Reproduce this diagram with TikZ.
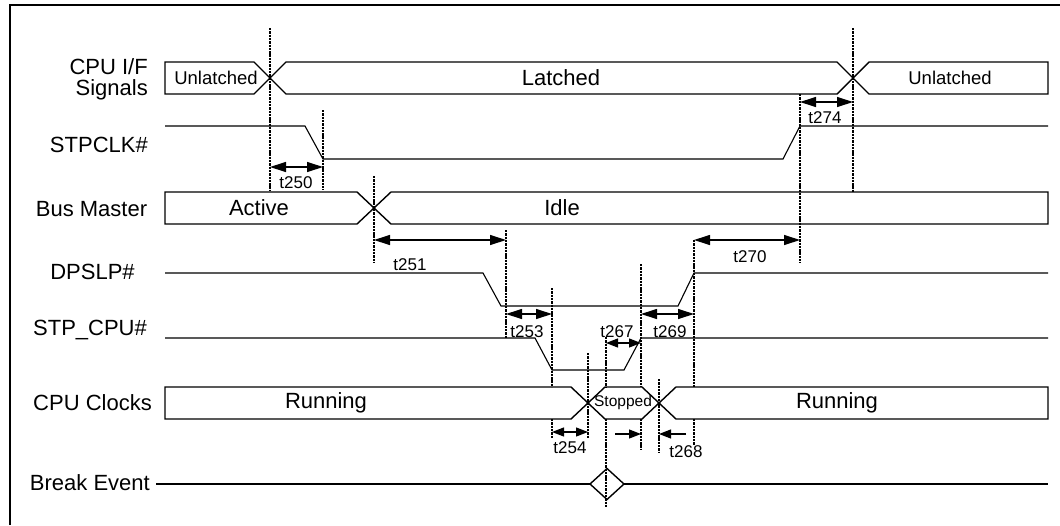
\documentclass[tikz,border=0pt]{standalone}
\usepackage{fontspec}
\setmainfont{Liberation Sans}
\usetikzlibrary{arrows.meta}
\begin{document}
\begin{tikzpicture}[x=1pt,y=-1pt,
  sig/.style={line width=1.1pt},
  bus/.style={line width=1.4pt, line join=miter},
  dl/.style={line width=2.3pt, dash pattern=on 2.4pt off 0.9pt},
  tarr/.style={line width=1.2pt, {Triangle[length=16pt,width=10pt]}-{Triangle[length=16pt,width=10pt]}},
  sarr/.style={line width=1.2pt, {Triangle[length=12pt,width=9pt]}-{Triangle[length=12pt,width=9pt]}},
  oarr/.style={line width=1.2pt, -{Triangle[length=12pt,width=9pt]}},
  lbl/.style={font=\fontsize{22}{21}\selectfont, inner sep=0pt},
  st/.style={font=\fontsize{22}{24}\selectfont, inner sep=0pt},
  sst/.style={font=\fontsize{18.5}{20}\selectfont, inner sep=0pt},
  tl/.style={font=\fontsize{17}{19}\selectfont, inner sep=0pt},
]
\useasboundingbox (0,0) rectangle (1060,525);
% frame (only top and left edges visible)
\draw[line width=2.6pt] (10,525) -- (10,5) -- (1060,5);

% ---------- dashed reference lines ----------
\draw[dl] (270,28) -- (270,190);
\draw[dl] (853,28) -- (853,192);
\draw[dl] (323,110) -- (323,190);
\draw[dl] (800,94) -- (800,263);
\draw[dl] (374,176) -- (374,263);
\draw[dl] (506,230) -- (506,338);
\draw[dl] (694,240) -- (694,387) (694,419) -- (694,445);
\draw[dl] (552,288) -- (552,387) (552,419) -- (552,438);
\draw[dl] (641,264) -- (641,387) (641,419) -- (641,449);
\draw[dl] (606,337) -- (606,387) (606,419) -- (606,507);
\draw[dl] (588,353) -- (588,438);
\draw[dl] (659,379) -- (659,453);

% ---------- buses ----------
\draw[bus] (165,62) -- (254,62) -- (286,94) -- (837,94) -- (869,62) -- (1048,62)
  -- (1048,94) -- (869,94) -- (837,62) -- (286,62) -- (254,94) -- (165,94) -- cycle;
\draw[bus] (165,192) -- (357,192) -- (391,224) -- (1048,224) -- (1048,192)
  -- (391,192) -- (357,224) -- (165,224) -- cycle;
\draw[bus] (165,387) -- (571,387) -- (605,419) -- (642,419) -- (676,387) -- (1048,387)
  -- (1048,419) -- (676,419) -- (642,387) -- (605,387) -- (571,419) -- (165,419) -- cycle;

% ---------- single signals ----------
\draw[sig] (165,126) -- (305,126) -- (323,159) -- (783,159) -- (800,126) -- (1048,126);
\draw[sig] (165,273) -- (483,273) -- (501,306) -- (678,306) -- (694,273) -- (1048,273);
\draw[sig] (165,338) -- (535,338) -- (552,370) -- (624,370) -- (641,338) -- (1048,338);
\draw[bus] (156,484) -- (590,484);
\draw[bus] (590,484) -- (607,468.5) -- (624,484) -- (607,499.5) -- cycle;
\draw[bus] (624,484) -- (1048,484);

% ---------- timing arrows ----------
\coordinate (a250l) at (270,167); \coordinate (a250r) at (323,167);
\coordinate (a274l) at (800,102); \coordinate (a274r) at (853,102);
\coordinate (a251l) at (374,240); \coordinate (a251r) at (506,240);
\coordinate (a270l) at (694,240); \coordinate (a270r) at (800,240);
\coordinate (a253l) at (506,314); \coordinate (a253r) at (552,314);
\coordinate (a269l) at (641,314); \coordinate (a269r) at (694,314);
\coordinate (a267l) at (606,343); \coordinate (a267r) at (641,343);
\coordinate (a254l) at (552,432); \coordinate (a254r) at (588,432);
\coordinate (a268a) at (615,434); \coordinate (a268b) at (641,434);
\coordinate (a268c) at (686,434); \coordinate (a268d) at (659,434);
\draw[tarr] (a250l) -- (a250r);
\draw[tarr] (a274l) -- (a274r);
\draw[tarr] (a251l) -- (a251r);
\draw[tarr] (a270l) -- (a270r);
\draw[tarr] (a253l) -- (a253r);
\draw[tarr] (a269l) -- (a269r);
\draw[sarr] (a267l) -- (a267r);
\draw[sarr] (a254l) -- (a254r);
\draw[oarr] (a268a) -- (a268b);
\draw[oarr] (a268c) -- (a268d);

% ---------- timing labels ----------
\node[tl] (t250) at (296,183) {t250};
\node[tl] (t274) at (825,118) {t274};
\node[tl] (t251) at (410,265) {t251};
\node[tl] (t270) at (750,257) {t270};
\node[tl] (t253) at (527,332) {t253};
\node[tl] (t269) at (670,332) {t269};
\node[tl] (t267) at (617,332) {t267};
\node[tl] (t254) at (570,448) {t254};
\node[tl] (t268) at (686,452) {t268};

% ---------- state texts ----------
\node[sst] (s1) at (216,78) {Unlatched};
\node[st] (s2) at (561,78) {Latched};
\node[sst] (s3) at (950,78) {Unlatched};
\node[st] (s4) at (259,208) {Active};
\node[st] (s5) at (562,208) {Idle};
\node[st] (s6) at (326,403) {Running};
\node[font=\fontsize{15.5}{17}\selectfont, inner sep=0pt] (s7) at (623,402) {Stopped};
\node[st] (s8) at (837,403) {Running};

% ---------- row labels ----------
\node[lbl, anchor=east, align=right] (l1) at (148,79) {CPU I/F\\Signals};
\node[lbl, anchor=east] (l2) at (148,145) {STPCLK\#};
\node[lbl] (l3) at (91.5,209) {Bus Master};
\node[lbl] (l4) at (92.5,272) {DPSLP\#};
\node[lbl] (l5) at (90,330) {STP\_CPU\#};
\node[lbl] (l6) at (92.5,403) {CPU Clocks};
\node[lbl, anchor=east] (l7) at (150,483) {Break Event};
\end{tikzpicture}
\end{document}
